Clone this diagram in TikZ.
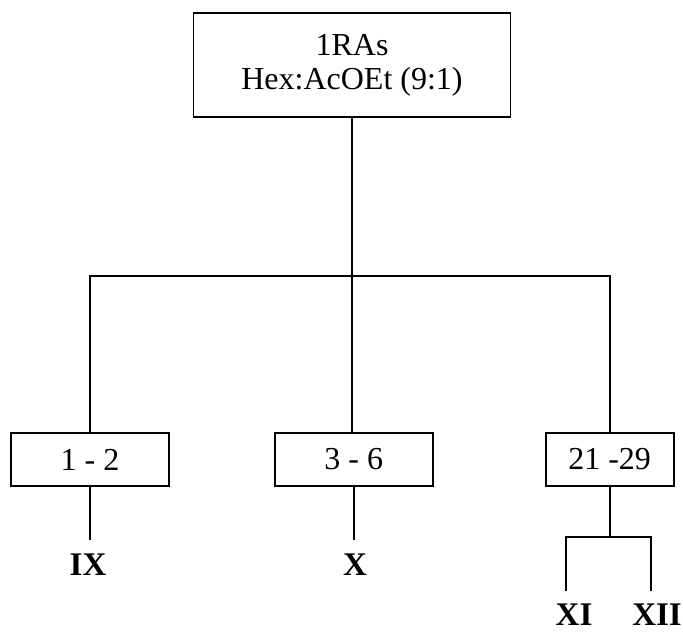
\documentclass[tikz,border=0pt]{standalone}
\usepackage{fontspec}
\setmainfont{Liberation Serif}
\usetikzlibrary{positioning}

\begin{document}
\begin{tikzpicture}[
        x=0.5pt, y=-0.5pt,
        box/.style={rectangle, draw=black, line width=0.9pt, minimum width=79pt, minimum height=26.5pt, inner sep=2pt, font=\fontsize{16}{17}\selectfont},
        fraction/.style={font=\fontsize{16.5}{17}\selectfont\bfseries, inner sep=0pt, outer ysep=7pt},
        link/.style={line width=0.9pt}
    ]
        \useasboundingbox (0,0) rectangle (683,633);

        \node[box, minimum width=158.5pt, minimum height=52pt, align=center] (column) at (352,65) {1RAs\\Hex:AcOEt (9:1)};
        \node[box] (f12) at (90,459.5) {1 - 2};
        \node[box, right=52pt of f12] (f36) {3 - 6};
        \node[box, minimum width=64pt, right=55.5pt of f36] (f2129) {21 -29};

        % product labels
        \node[fraction] (ix) at (88,565) {IX};
        \node[fraction] (x) at (355,565) {X};
        \node[fraction] (xi) at (574,615) {XI};
        \node[fraction] (xii) at (657,615) {XII};

        \coordinate (split) at (352,276);
        \coordinate (fork) at (609,537);
        \coordinate (xiend) at (566,591);
        \coordinate (xiiend) at (651,591);

        \draw[link] (column.south) -- (split);
        \draw[link] (split) -| (f12.north);
        \draw[link] (split) -- (split |- f36.north);
        \draw[link] (split) -| (f2129.north);
        \draw[link] (f12.south) -- (f12.south |- ix.north);
        \draw[link] (f36.south) -- (f36.south |- x.north);
        \draw[link] (f2129.south) -- (f2129.south |- fork);
        \draw[link] (xiend) |- (fork) -| (xiiend); % split into XI and XII
    \end{tikzpicture}
\end{document}
